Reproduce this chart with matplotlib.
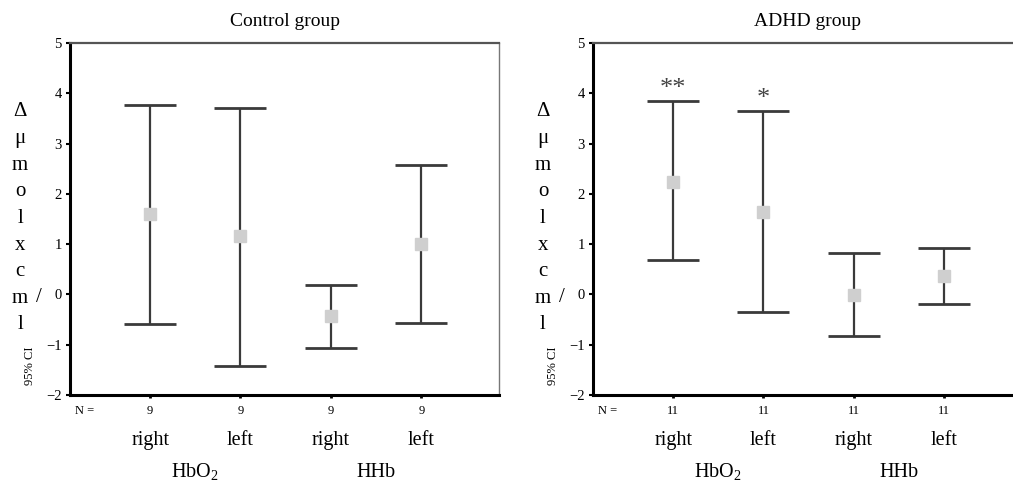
import matplotlib
matplotlib.use("Agg")
import matplotlib.pyplot as plt
import numpy as np

plt.rcParams['font.family'] = ['Liberation Serif', 'DejaVu Serif']
plt.rcParams['mathtext.fontset'] = 'custom'
plt.rcParams['mathtext.rm'] = 'Liberation Serif'

# data (mean, lower 95% CI, upper 95% CI)
side_labels = ["right", "left", "right", "left"]
chrom_labels = ["HbO$_\\mathrm{2}$", "HHb"]

ctrl_mean = [1.60, 1.16, -0.42, 1.00]
ctrl_low = [-0.58, -1.42, -1.06, -0.56]
ctrl_high = [3.76, 3.70, 0.18, 2.58]
ctrl_n = [9, 9, 9, 9]

adhd_mean = [2.24, 1.64, -0.02, 0.36]
adhd_low = [0.68, -0.34, -0.82, -0.20]
adhd_high = [3.84, 3.64, 0.82, 0.92]
adhd_n = [11, 11, 11, 11]
adhd_stars = ["**", "*", "", ""]

ylab_letters = ["Δ", "μ", "m", "o", "l", "x", "c", "m", "l"]

fig = plt.figure(figsize=(10.13, 4.88), dpi=100)
W, H = 1013.0, 488.0


def panel(left_px, title, mean, low, high, n, stars=None):
    ax = fig.add_axes([left_px / W, (H - 395) / H, 429 / W, 352 / H])
    x = np.arange(1, 5)
    mean = np.array(mean)
    yerr = [mean - np.array(low), np.array(high) - mean]
    ax.errorbar(x, mean, yerr=yerr, fmt='none', ecolor='#3a3a3a',
                elinewidth=1.6, capsize=19, capthick=2.0, zorder=2)
    ax.plot(x, mean, 's', color='#cfcfcf', markersize=8.5, zorder=3)
    if stars:
        for xi, hi, s in zip(x, high, stars):
            if s:
                ax.text(xi, hi + 0.02, s, ha='center', va='bottom',
                        fontsize=19, color='#444444')
    ax.set_xlim(0.114, 4.86)
    ax.set_ylim(-2, 5)
    ax.set_yticks(range(-2, 6))
    ax.set_yticklabels([str(v).replace('-', '\u2212') for v in range(-2, 6)])
    ax.set_xticks(x)
    ax.set_xticklabels([])
    ax.tick_params(axis='y', length=3, width=1.5, labelsize=10.5, pad=3)
    ax.tick_params(axis='x', length=2, width=2, direction='out')
    ax.spines['left'].set_linewidth(2.2)
    ax.spines['bottom'].set_linewidth(2.2)
    ax.spines['top'].set_linewidth(1.6)
    ax.spines['top'].set_color('#555555')
    ax.spines['right'].set_linewidth(1.0)
    ax.spines['right'].set_color('#777777')
    ax.set_title(title, fontsize=14, pad=12)

    # N row, side labels, chromophore labels
    tr = ax.get_xaxis_transform()
    ax.text(0.114 + 5 / 90.3, -0.045, "N =", transform=tr, ha='left',
            va='center', fontsize=9)
    for xi, ni, lab in zip(x, n, side_labels):
        ax.text(xi, -0.045, str(ni), transform=tr, ha='center', va='center',
                fontsize=9)
        ax.text(xi, -0.13, lab, transform=tr, ha='center', va='center',
                fontsize=14.5)
    ax.text(1.5, -0.22, chrom_labels[0], transform=tr, ha='center',
            va='center', fontsize=14.5)
    ax.text(3.5, -0.22, chrom_labels[1], transform=tr, ha='center',
            va='center', fontsize=14.5)

    # stacked y label
    lx = (left_px - 50) / W
    for i, ch in enumerate(ylab_letters):
        fig.text(lx, (H - 112 - 26.6 * i) / H, ch, ha='center', va='center',
                 fontsize=15)
    fig.text(lx + 19 / W, (H - 298) / H, "/", ha='center', va='center',
             fontsize=15)
    fig.text(lx + 10 / W, (H - 366) / H, "95% CI", ha='center', va='center',
             rotation=90, fontsize=9)
    return ax


panel(70, "Control group", ctrl_mean, ctrl_low, ctrl_high, ctrl_n)
panel(593, "ADHD group", adhd_mean, adhd_low, adhd_high, adhd_n, adhd_stars)

fig.savefig("out.png", dpi=100)
